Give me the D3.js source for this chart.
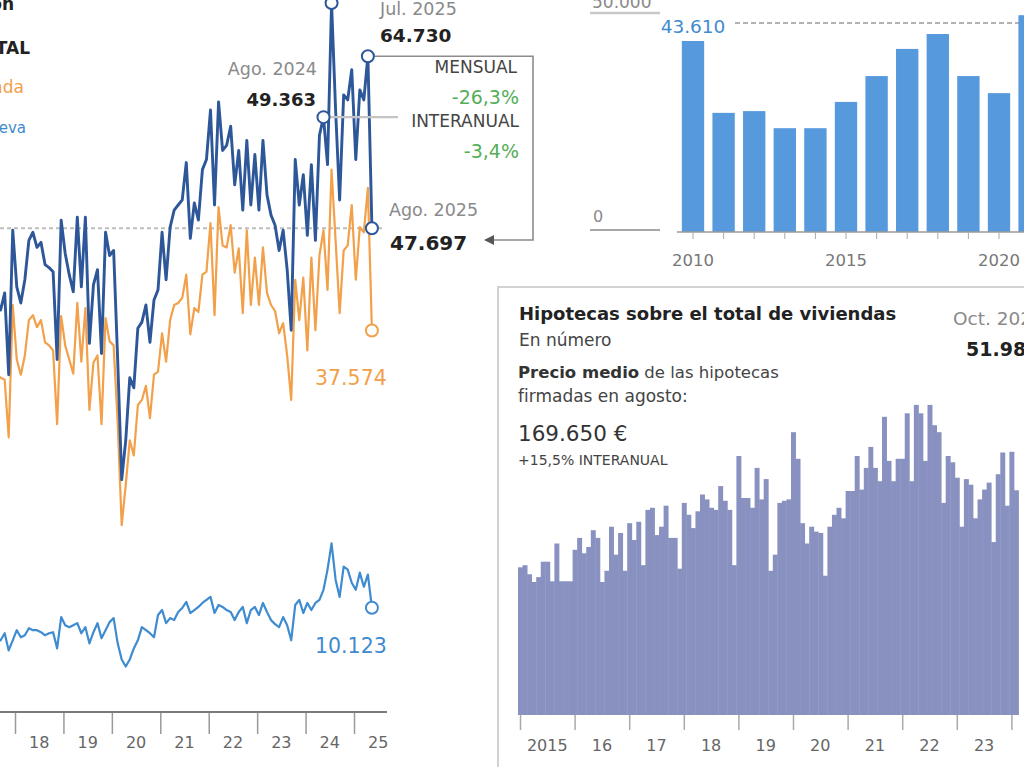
<!DOCTYPE html>
<html lang="es">
<head>
<meta charset="utf-8">
<script src="https://cdn.jsdelivr.net/npm/d3@7"></script>
<style>
  body { margin: 0; background: #fff; }
  svg { display: block; font-family: 'DejaVu Sans', sans-serif; }
</style>
</head>
<body>
<div id="chart"></div>
<script>
// compraventa de viviendas, mensual (serie visible)
const serieStart = 2017.62
const total = [40600,39600,41300,33200,47500,41900,40300,42600,46500,47300,
  45800,46300,44100,43800,43400,34700,48500,45200,43100,41400,
  48800,41900,48800,36300,42100,43600,35300,47300,45000,45500,
  34700,22800,26700,32900,31900,37800,38400,40100,36400,40600,
  41600,47300,42600,47800,49500,50000,50500,54200,46700,50200,
  48500,53500,54500,59400,50000,60200,55400,55900,57800,52000,
  55400,49500,56400,50000,55000,49500,56400,51000,49000,48000,
  45500,47500,43600,37600,54500,50000,53000,47000,54000,46500,
  56900,58700,54000,70000,59400,50500,60900,60400,63400,54500,
  61400,60400,64730,47697]
const usada = [33200,32900,32700,27000,40100,34700,33200,35100,38600,39100,
  37900,38600,36400,36100,35600,28300,39000,36100,34700,33300,
  40300,34500,39800,29700,34400,35100,28300,38800,36500,36100,
  28500,18300,22300,26700,25200,30200,30700,32100,28900,33200,
  33500,37300,34500,38600,40100,40300,40800,43100,37200,39800,
  39400,43100,43400,48200,39100,49800,46000,45800,48000,43300,
  45700,39300,47500,40100,44800,40100,45800,41300,40100,39500,
  37300,38300,35100,30700,42600,38600,42800,35600,44800,37600,
  45000,47500,41600,53500,46500,39300,45500,46000,50000,42600,
  47800,47300,51700,37574]
const nueva = [7200,6900,7600,5900,6900,7900,7200,7400,8100,7900,
  7900,7700,7400,7600,7700,6100,9200,8400,8200,8400,
  8600,7600,8200,6600,7700,8600,7100,7900,8700,9100,
  6600,5000,4300,5000,6100,6900,8200,7900,7600,7200,
  9400,9900,8600,9100,8900,9700,10100,10700,9600,9900,
  10200,10600,10900,11200,9600,10400,10200,9900,9700,8900,
  9700,10200,8600,9900,10200,9400,10600,9700,8900,8500,
  8200,9200,8400,6900,10400,10900,9600,10600,9900,10600,
  10900,11900,13900,16500,12900,11200,14200,13900,12600,11900,
  13600,12200,13400,10123]
const yearTicks = [2017,2018,2019,2020,2021,2022,2023,2024,2025]
const agoAnterior = 49363

// compraventas en agosto por año
const yearsAgo = [2010,2011,2012,2013,2014,2015,2016,2017,2018,2019,2020,2021]
const ventasAgo = [43610,27200,27600,23700,23700,29700,35600,41800,45200,35600,31700,49500]

// hipotecas sobre viviendas, mensual desde 2015
const hipotecas = [21100,21400,20100,19000,19700,21900,21900,19100,24500,19100,
  19100,19100,23600,25300,23100,24000,26400,25300,19000,20600,
  26900,22900,26000,20600,27400,25000,27600,21400,29300,29600,
  25700,26900,29900,25300,25300,20900,30300,28600,26700,29100,
  31500,30800,29600,29300,32700,30600,29300,21400,37000,31000,
  31000,29600,35300,30800,33700,20600,22900,30300,30600,30800,
  40400,36600,27400,24500,26900,26200,26000,19900,26900,28600,
  29600,28100,32000,32000,37000,32200,35300,38300,35300,33400,
  42600,36300,33400,36600,36600,43100,33400,44300,43100,36300,
  44300,41400,40400,30300,37000,36100,33900,26900,33700,32900,
  28100,30800,32200,33200,24700,34400,37500,29900,37600,32100]
const hipoYears = [2015,2016,2017,2018,2019,2020,2021,2022,2023,2024]
const hipoMax = 51980

const es = d3.formatLocale({decimal: ',', thousands: '.', grouping: [3], currency: ['', ' €'], minus: '-'})
const fmt = es.format(',')
const pct = es.format('.1%')

const C = {total: '#2d5799', usada: '#f2a04a', nueva: '#3f8bd0', barra: '#5699dc', hipo: '#8891bf', verde: '#55ae5a', gris: '#8a8a8a'}
const FONT = "'DejaVu Sans', sans-serif"

const svg = d3.select('#chart').append('svg')
  .attr('width', 1024)
  .attr('height', 767)

const txt = (g, x, y, s, o) => g.append('text').attr('x', x).attr('y', y)
  .attr('text-anchor', o.anchor || 'start')
  .attr('fill', o.fill || '#222')
  .attr('font-weight', o.bold ? 700 : 400)
  .style('font-size', o.size + 'px')
  .text(s)

// ---------- left: lines ----------
const xL = d3.scaleLinear().domain([2018, 2025]).range([15, 354])
const yL = d3.scaleLinear().domain([0, 70000]).range([710, 3])
const fecha = i => serieStart + i / 12

const lineas = svg.append('g')
const last = total.length - 1

lineas.append('line')
  .attr('x1', 0).attr('x2', 385)
  .attr('y1', yL(total[last])).attr('y2', yL(total[last]))
  .attr('stroke', '#bdbdbd').attr('stroke-width', 2).attr('stroke-dasharray', '4,3')

const line = d3.line().x((d, i) => xL(fecha(i))).y(d => yL(d))

lineas.append('path').datum(nueva).attr('d', line)
  .attr('fill', 'none').attr('stroke', C.nueva).attr('stroke-width', 2.2).attr('stroke-linejoin', 'round')
lineas.append('path').datum(usada).attr('d', line)
  .attr('fill', 'none').attr('stroke', C.usada).attr('stroke-width', 2.2).attr('stroke-linejoin', 'round')
lineas.append('path').datum(total).attr('d', line)
  .attr('fill', 'none').attr('stroke', C.total).attr('stroke-width', 2.9).attr('stroke-linejoin', 'round')

// x axis
const axL = lineas.append('g').attr('transform', 'translate(0,712)')
axL.call(d3.axisBottom(xL).tickValues(yearTicks).tickSize(22).tickFormat(''))
axL.select('.domain').remove()
axL.selectAll('line').attr('stroke', '#9a9a9a').attr('stroke-width', 1.5)
axL.append('line').attr('x1', 0).attr('x2', 387).attr('stroke', '#7a7a7a').attr('stroke-width', 2)
axL.selectAll('text.yr')
  .data(yearTicks)
  .enter().append('text')
  .attr('class', 'yr')
  .attr('x', d => xL(d + 0.5))
  .attr('y', 36)
  .attr('text-anchor', 'middle')
  .attr('fill', '#666')
  .style('font-size', '16px')
  .style('font-family', FONT)
  .text(d => String(d).slice(2))

// annotation points
const iJul = last - 1, iAgo24 = last - 12
const iPico = d3.maxIndex(total)
const pt = (arr, i) => [xL(fecha(i)), yL(arr[i])]

const guides = lineas.append('g').attr('fill', 'none').attr('stroke', '#8c8c8c').attr('stroke-width', 1.6)
const [jx, jy] = pt(total, iJul)
const [ax, ay] = pt(total, last)
guides.append('path').attr('d', `M${jx},${jy} H533 V240 H492`)
guides.append('path').attr('d', 'M484,240 L494,235 L494,245 Z').attr('fill', '#555').attr('stroke', 'none')
const [bx, by] = pt(total, iAgo24)
guides.append('line').attr('x1', bx).attr('x2', 398).attr('y1', by).attr('y2', by).attr('stroke', '#c4c4c4').attr('stroke-width', 2.2)

const circles = [
  {p: pt(total, iPico), c: C.total},
  {p: [jx, jy], c: C.total},
  {p: [bx, by], c: C.total},
  {p: [ax, ay], c: C.total},
  {p: pt(usada, last), c: C.usada},
  {p: pt(nueva, last), c: C.nueva}
]
lineas.selectAll('circle').data(circles).enter().append('circle')
  .attr('cx', d => d.p[0]).attr('cy', d => d.p[1]).attr('r', 6)
  .attr('fill', '#fff').attr('stroke', d => d.c).attr('stroke-width', 2)

txt(lineas, 380, 15, 'Jul. 2025', {fill: C.gris, size: 17.5})
txt(lineas, 380, 42, fmt(total[iJul]), {bold: true, size: 18.5})
txt(lineas, 317, 75, 'Ago. 2024', {fill: C.gris, size: 17.5, anchor: 'end'})
txt(lineas, 316, 106, fmt(agoAnterior), {bold: true, size: 18, anchor: 'end'})
txt(lineas, 517, 73, 'MENSUAL', {fill: '#444', size: 17, anchor: 'end'})
txt(lineas, 519, 104, pct(total[last] / total[iJul] - 1), {fill: C.verde, size: 19, anchor: 'end'})
txt(lineas, 519, 127, 'INTERANUAL', {fill: '#444', size: 17, anchor: 'end'})
txt(lineas, 519, 158, pct(total[last] / agoAnterior - 1), {fill: C.verde, size: 19, anchor: 'end'})
txt(lineas, 389, 216, 'Ago. 2025', {fill: C.gris, size: 17.5})
txt(lineas, 390, 250, fmt(total[last]), {bold: true, size: 20})
txt(lineas, 315, 385, fmt(usada[last]), {fill: C.usada, size: 20.5})
txt(lineas, 315, 653, fmt(nueva[last]), {fill: C.nueva, size: 20.5})

// legend (cut at the left edge)
txt(lineas, 14, 10, 'Evolución', {bold: true, size: 17, anchor: 'end'})
txt(lineas, 30, 54, 'TOTAL', {bold: true, size: 17, anchor: 'end'})
txt(lineas, 24, 93, 'Usada', {fill: C.usada, size: 17, anchor: 'end'})
txt(lineas, 26, 133, 'Nueva', {fill: C.nueva, size: 15, anchor: 'end'})

// ---------- top right: August sales by year ----------
const agosto = svg.append('g')
const step = 30.6
const xB = d3.scaleBand().domain(yearsAgo)
  .range([677.7, 677.7 + step * yearsAgo.length])
  .paddingInner(0.27).paddingOuter(0.135)
const yB = d3.scaleLinear().domain([0, 50000]).range([232, 13])

agosto.append('line').attr('x1', 590).attr('x2', 660).attr('y1', yB(50000)).attr('y2', yB(50000))
  .attr('stroke', '#c8c8c8').attr('stroke-width', 2.5)
agosto.append('line').attr('x1', 590).attr('x2', 660).attr('y1', yB(0) - 2).attr('y2', yB(0) - 2)
  .attr('stroke', '#8a8a8a').attr('stroke-width', 1.5)
txt(agosto, 592, yB(50000) - 5, fmt(50000), {fill: C.gris, size: 17})
txt(agosto, 593, yB(0) - 10, '0', {fill: C.gris, size: 16})

agosto.append('line').attr('x1', 735).attr('x2', 1024)
  .attr('y1', yB(total[last])).attr('y2', yB(total[last]))
  .attr('stroke', '#9a9a9a').attr('stroke-width', 1.5).attr('stroke-dasharray', '5,3')

agosto.selectAll('rect').data(yearsAgo).enter().append('rect')
  .attr('x', d => xB(d))
  .attr('width', xB.bandwidth())
  .attr('y', (d, i) => yB(ventasAgo[i]))
  .attr('height', (d, i) => yB(0) - yB(ventasAgo[i]))
  .attr('fill', C.barra)

const axB = agosto.append('g').attr('transform', `translate(0,${yB(0)})`)
axB.call(d3.axisBottom(xB).tickSize(7).tickPadding(15).tickFormat(d => d % 5 === 0 ? d : ''))
axB.select('.domain').attr('d', 'M677,0H1024').attr('stroke', '#9a9a9a').attr('stroke-width', 1.5)
axB.selectAll('line').attr('stroke', '#aaa')
axB.selectAll('text').attr('fill', '#777').style('font-size', '16.5px').style('font-family', FONT)

txt(agosto, xB(yearsAgo[0]) + xB.bandwidth() / 2, 33, fmt(ventasAgo[0]), {fill: C.nueva, size: 18.5, anchor: 'middle'})

// ---------- bottom right: mortgages ----------
const hipo = svg.append('g')
hipo.append('path').attr('d', 'M1024,287 H498 V767')
  .attr('fill', 'none').attr('stroke', '#d2d2d2').attr('stroke-width', 2)

const xH = d3.scaleLinear().domain([2015, 2016]).range([520, 574.6])
const yH = d3.scaleLinear().domain([0, 60000]).range([715, 295])

hipo.selectAll('rect').data(hipotecas).enter().append('rect')
  .attr('x', (d, i) => xH(2015 + i / 12) - 2)
  .attr('width', xH(2015 + 1 / 12) - xH(2015) + 0.4)
  .attr('y', d => yH(d))
  .attr('height', d => yH(0) - yH(d))
  .attr('fill', C.hipo)

const axH = hipo.append('g').attr('transform', `translate(0,${yH(0)})`)
axH.call(d3.axisBottom(xH).tickValues(hipoYears).tickSize(15).tickFormat(''))
axH.select('.domain').remove()
axH.selectAll('line').attr('stroke', '#aaa').attr('stroke-width', 1.5)
axH.selectAll('text.yr').data(hipoYears.slice(0, -1)).enter().append('text')
  .attr('class', 'yr')
  .attr('x', d => xH(d + 0.5))
  .attr('y', 36)
  .attr('text-anchor', 'middle')
  .attr('fill', '#666')
  .style('font-size', '16px')
  .style('font-family', FONT)
  .text(d => d === 2015 ? d : String(d).slice(2))

txt(hipo, 519, 320, 'Hipotecas sobre el total de viviendas', {bold: true, size: 18})
txt(hipo, 519, 346, 'En número', {fill: '#444', size: 17})
const pm = txt(hipo, 518, 378, '', {fill: '#444', size: 16.5})
pm.append('tspan').attr('font-weight', 700).attr('fill', '#333').text('Precio medio')
pm.append('tspan').text(' de las hipotecas')
txt(hipo, 518, 402, 'firmadas en agosto:', {fill: '#444', size: 17})
txt(hipo, 518, 441, '169.650 €', {fill: '#333', size: 21.5})
txt(hipo, 518, 465, '+15,5% INTERANUAL', {fill: '#444', size: 14})
txt(hipo, 953, 325, 'Oct. 2025', {fill: C.gris, size: 18.5})
txt(hipo, 966, 356, fmt(hipoMax), {bold: true, size: 19})
</script>
</body>
</html>
